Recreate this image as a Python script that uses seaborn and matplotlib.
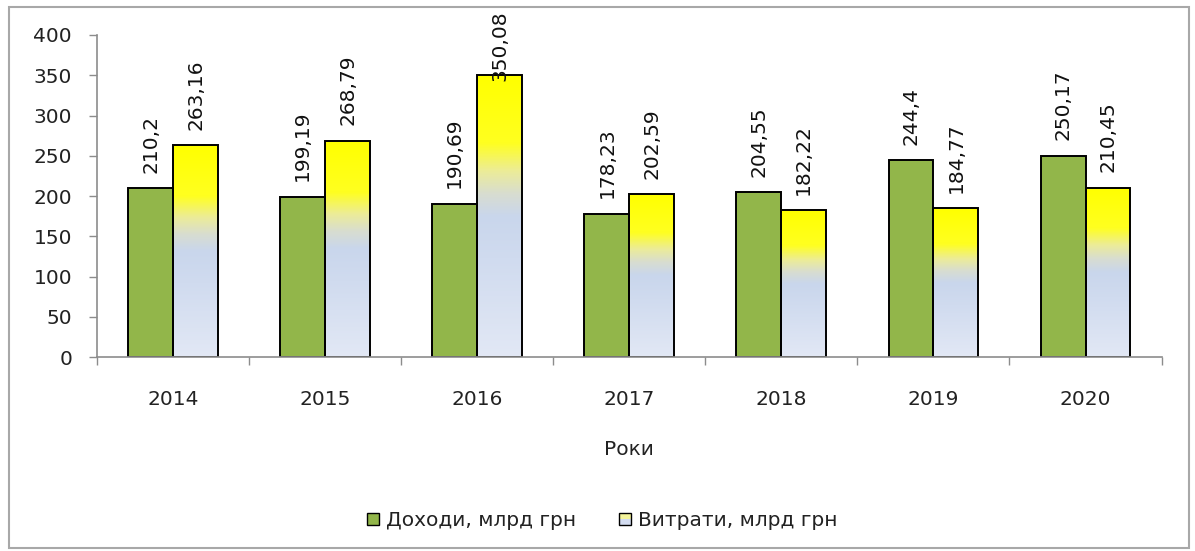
import numpy as np
import pandas as pd
import matplotlib
matplotlib.use("Agg")
import matplotlib.pyplot as plt
import seaborn as sns
from matplotlib.colors import LinearSegmentedColormap
from matplotlib.patches import Rectangle
from matplotlib.legend_handler import HandlerBase

years = ["2014", "2015", "2016", "2017", "2018", "2019", "2020"]
income = [210.2, 199.19, 190.69, 178.23, 204.55, 244.4, 250.17]
expenses = [263.16, 268.79, 350.08, 202.59, 182.22, 184.77, 210.45]
income_labels = ["210,2", "199,19", "190,69", "178,23", "204,55", "244,4", "250,17"]
expense_labels = ["263,16", "268,79", "350,08", "202,59", "182,22", "184,77", "210,45"]
series_names = ["Доходи, млрд грн", "Витрати, млрд грн"]
xlabel = "Роки"

sns.set_theme(style="white")
plt.rcParams["font.family"] = ["DejaVu Sans"]
FS = 14.5

df = pd.DataFrame({
    "year": years * 2,
    "value": income + expenses,
    "series": [series_names[0]] * len(years) + [series_names[1]] * len(years),
})

fig = plt.figure(figsize=(11.95, 5.51), dpi=100)
ax = fig.add_axes([0.0812, 0.352, 0.8908, 0.5845])

green = "#92B64A"
sns.barplot(data=df, x="year", y="value", hue="series", order=years,
            hue_order=series_names, palette=[green, "#FFFF00"],
            width=0.59, edgecolor="black", linewidth=1.4, ax=ax,
            legend=False, saturation=1)

cmap = LinearSegmentedColormap.from_list("grad", [
    (0.0, "#E2E8F5"), (0.35, "#D0DBEF"), (0.50, "#C9D6EC"),
    (0.58, "#D8DDD0"), (0.66, "#ECEC98"), (0.76, "#FFFF20"), (1.0, "#FFFF00")])
grad = np.linspace(0, 1, 256).reshape(-1, 1)
for patch in ax.containers[1]:
    x0, w, h = patch.get_x(), patch.get_width(), patch.get_height()
    im = ax.imshow(grad, cmap=cmap, origin="lower", aspect="auto",
                   extent=(x0, x0 + w, 0, h), zorder=patch.get_zorder() - 0.1,
                   interpolation="bicubic")
    im.set_clip_path(patch)
    patch.set_facecolor("none")
ax.set_xlim(-0.5, len(years) - 0.5)
ax.set_ylim(0, 400)

# value labels
for cont, labs in zip(ax.containers, [income_labels, expense_labels]):
    for patch, lab in zip(cont, labs):
        cx = patch.get_x() + patch.get_width() / 2
        h = patch.get_height()
        if h > 330:
            ax.annotate(lab, (cx, 1.075), xycoords=("data", "axes fraction"),
                        ha="center", va="top", rotation=90, fontsize=FS,
                        color="#111111", annotation_clip=False)
        else:
            ax.annotate(lab, (cx, h), xytext=(0, 11), textcoords="offset points",
                        ha="center", va="bottom", rotation=90, fontsize=FS,
                        color="#111111", annotation_clip=False)

# axes styling
for s in ["top", "right"]:
    ax.spines[s].set_visible(False)
for s in ["left", "bottom"]:
    ax.spines[s].set_color("#8C8C8C")
    ax.spines[s].set_linewidth(1.2)
ax.set_yticks(np.arange(0, 401, 50))
ax.tick_params(axis="y", which="major", direction="out", length=6, width=1,
               color="#8C8C8C", labelsize=FS, labelcolor="#222222", left=True, pad=12)
ax.set_xticks(range(len(years)))
ax.set_xticklabels(years)
ax.set_xticks(np.arange(-0.5, len(years), 1.0), minor=True)
ax.tick_params(axis="x", which="major", length=0, labelsize=FS,
               labelcolor="#222222", pad=24)
ax.tick_params(axis="x", which="minor", direction="out", length=6, width=1,
               color="#8C8C8C", bottom=True)
ax.set_xlabel(xlabel, fontsize=FS, color="#222222", labelpad=22)
ax.set_ylabel("")
ax.grid(False)


class SplitHandler(HandlerBase):
    def create_artists(self, legend, orig_handle, xdescent, ydescent, width,
                       height, fontsize, trans):
        s = height * 0.85
        x = xdescent + width - s
        y = -ydescent + (height - s) / 2
        top = Rectangle((x, y + s / 2), s, s / 2, facecolor="#F4F49A",
                        edgecolor="none", transform=trans)
        bot = Rectangle((x, y), s, s / 2, facecolor="#D3DCF0",
                        edgecolor="none", transform=trans)
        frame = Rectangle((x, y), s, s, facecolor="none",
                          edgecolor="black", lw=1, transform=trans)
        return [top, bot, frame]


class SquareHandler(HandlerBase):
    def create_artists(self, legend, orig_handle, xdescent, ydescent, width,
                       height, fontsize, trans):
        s = height * 0.85
        x = xdescent + width - s
        y = -ydescent + (height - s) / 2
        return [Rectangle((x, y), s, s, facecolor=green, edgecolor="black",
                          lw=1, transform=trans)]


h1 = Rectangle((0, 0), 1, 1)
h2 = Rectangle((0, 0), 1, 1)
fig.legend([h1, h2], series_names, loc="center", bbox_to_anchor=(0.503, 0.055),
           ncol=2, frameon=False, fontsize=FS, handlelength=0.7,
           handletextpad=0.35, columnspacing=2.0,
           handler_map={h1: SquareHandler(), h2: SplitHandler()},
           labelcolor="#222222")

fig.patches.append(Rectangle((9 / 1195, 1 - 548 / 551), 1180 / 1195, 541 / 551,
                             transform=fig.transFigure, facecolor="none",
                             edgecolor="#A8A8A8", lw=1.5))

fig.savefig("out.png", dpi=100)
